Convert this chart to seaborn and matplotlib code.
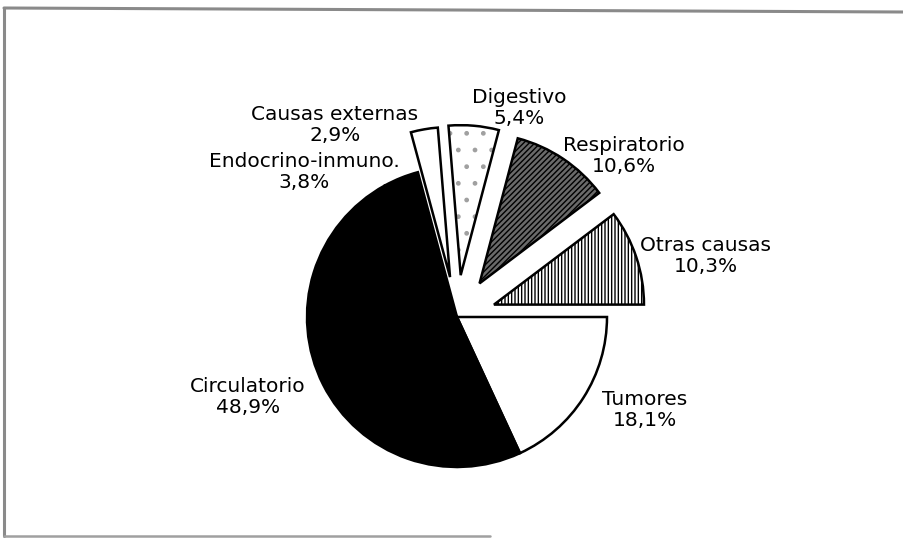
import numpy as np
import pandas as pd
import seaborn as sns
import matplotlib
matplotlib.use("Agg")
import matplotlib.pyplot as plt
from matplotlib.lines import Line2D

# ---- data ----
categories = ["Tumores", "Circulatorio", "Endocrino-inmuno.", "Causas externas",
              "Digestivo", "Respiratorio", "Otras causas"]
values = [18.1, 48.9, 3.8, 2.9, 5.4, 10.6, 10.3]
pct_labels = ["18,1%", "48,9%", "3,8%", "2,9%", "5,4%", "10,6%", "10,3%"]

df = pd.DataFrame({"cat": categories, "val": values, "pct": pct_labels})

# ---- style ----
sns.set_theme(style="white")
plt.rcParams["font.family"] = ["DejaVu Sans"]
plt.rcParams["hatch.linewidth"] = 1.0

W, H = 904, 539
fig = plt.figure(figsize=(W / 100, H / 100), dpi=100)
fig.patch.set_facecolor("white")

cx, cy, R = 457, 317, 150   # pie centre / radius in pixels
half = 200
ax = fig.add_axes([(cx - half) / W, (H - cy - half) / H, 2 * half / W, 2 * half / H])

explode = [0, 0, 0, 0.27, 0.28, 0.27, 0.26]
faces = ["white", "black", "black", "white", "white", "#6a6a6a", "white"]
hatches = [None, None, None, None, ".", "//////", "|||||"]
hatch_cols = ["black", "black", "black", "black", "#a0a0a0", "black", "black"]

# filled / hatched layer
wedges, _ = ax.pie(df["val"], startangle=0, counterclock=False, explode=explode,
                   radius=1.0, wedgeprops=dict(linewidth=0))
for w, fc, h, hc in zip(wedges, faces, hatches, hatch_cols):
    w.set_facecolor(fc)
    w.set_edgecolor(hc)
    if h:
        w.set_hatch(h)
# outline layer
outl, _ = ax.pie(df["val"], startangle=0, counterclock=False, explode=explode,
                 radius=1.0, wedgeprops=dict(fill=False, edgecolor="black", linewidth=1.8))

lim = half / R
ax.set_xlim(-lim, lim)
ax.set_ylim(-lim, lim)
ax.set_aspect("equal")
ax.axis("off")

# ---- labels (pixel centres of two-line labels) ----
label_pos = {
    "Tumores": (645, 410),
    "Circulatorio": (248, 397),
    "Endocrino-inmuno.": (304, 172),
    "Causas externas": (335, 125),
    "Digestivo": (519, 108),
    "Respiratorio": (624, 156),
    "Otras causas": (706, 256),
}
for cat, pct in zip(df["cat"], df["pct"]):
    px, py = label_pos[cat]
    fig.text(px / W, 1 - py / H, f"{cat}\n{pct}", ha="center", va="center",
             fontsize=14.5, color="black", linespacing=1.1)

# ---- scanned frame ----
fig.add_artist(Line2D([4 / W, 1], [1 - 8 / H, 1 - 12 / H], transform=fig.transFigure,
                      color="#8a8a8a", lw=2.2))
fig.add_artist(Line2D([4 / W, 4 / W], [1 - 8 / H, 1 - 536 / H], transform=fig.transFigure,
                      color="#8a8a8a", lw=2.2))
fig.add_artist(Line2D([4 / W, 490 / W], [1 - 536 / H, 1 - 536 / H], transform=fig.transFigure,
                      color="#a0a0a0", lw=1.8))

fig.savefig("out.png", dpi=100, facecolor="white")
